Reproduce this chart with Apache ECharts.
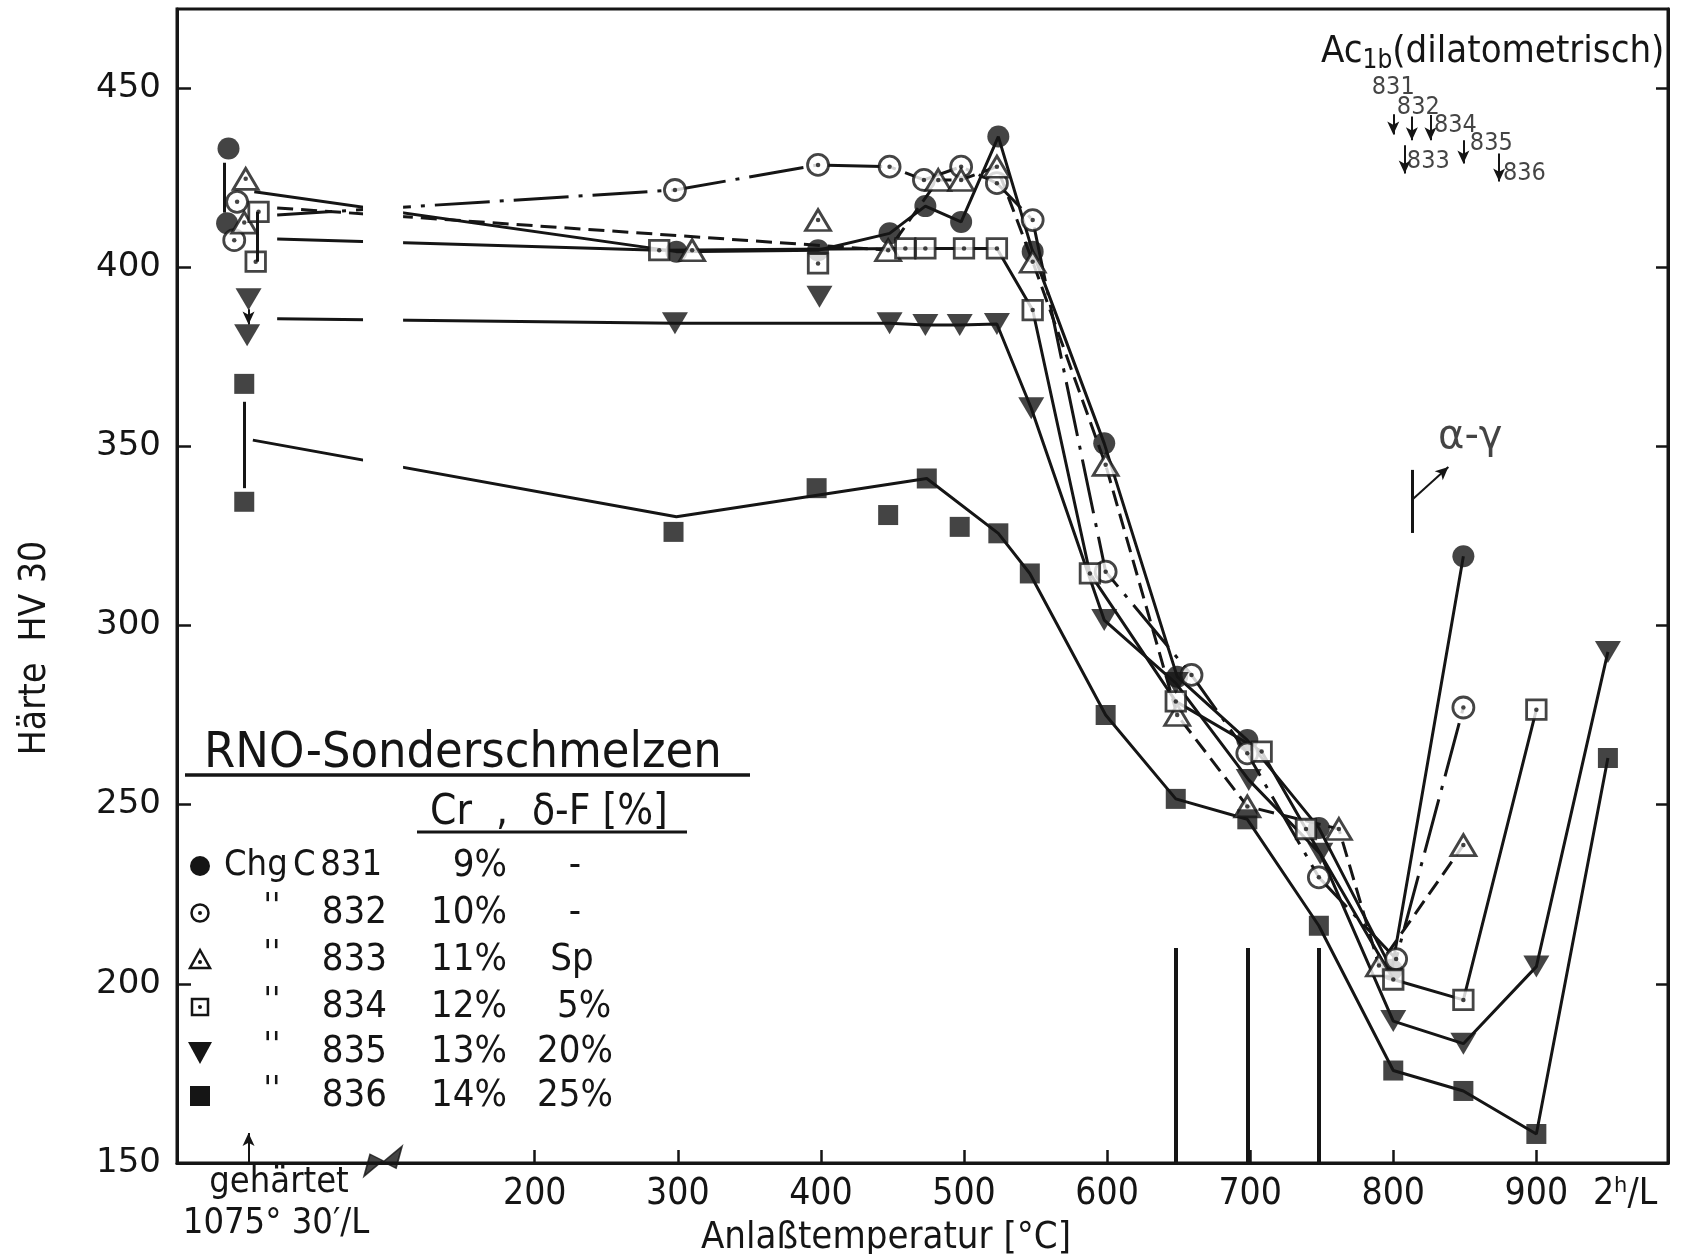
<!DOCTYPE html>
<html>
<head>
<meta charset="utf-8">
<script src="https://cdn.jsdelivr.net/npm/echarts@6.0.0/dist/echarts.min.js"></script>
<style>
html,body{margin:0;padding:0;background:#ffffff;}
#chart{width:1684px;height:1254px;}
</style>
</head>
<body>
<div id="chart"></div>
<script>
// ---------------- data ----------------
const grades = ['831','832','833','834','835','836'];
const chromium = ['9%','10%','11%','12%','13%','14%'];
const deltaFerrite = ['-','-','Sp','5%','20%','25%'];

const xTickValues = [200,300,400,500,600,700,800,900];
const xLongTermPos = 962;           // where the "2h/L" label sits
const xLongTermLabel = '2ʰ/L';
const yTickValues = [150,200,250,300,350,400,450];

// as-hardened hardness (1075 °C 30'/L): [x, HV] upper / lower value
const hard831 = [[-14,433.1],[-15,412.2]];
const hard832 = [[-8,418.2],[-10,407.5]];
const hard833 = [[-2,424.6],[-3,412.4]];
const hard834 = [[7,415.4],[5,401.5]];
const hard835 = [[0,391],[-1,381]];
const hard836 = [[-3,367.4],[-3,334.5]];

// tempering results: [temperature, HV]
const temp831 = [[299,404.3],[398,404.7],[448,409.4],[473,417],[498,412.6],[524,436.4],[548,404.3],[598,350.8],[649,285.7],[698,268],[748,243.5],[799,203.9],[849,319.3]];
const temp832 = [[298,421.5],[398,428.5],[448,428],[472,424.3],[498,428],[523,423.4],[548,413.1],[599,315],[659,286.2],[698,264.3],[748,229.7],[802,206.9],[849,277.1]];
const temp833 = [[310,404.7],[398,413.1],[447,404.7],[482,424.3],[498,424.3],[523,428],[548,401.5],[599,344.8],[649,275],[698,249.5],[762,243.2],[790,205.1],[849,238.7]];
const temp834 = [[287,404.7],[398,401],[459,405.2],[473,405.2],[500,405.2],[523,405.2],[548,388],[588,314.5],[648,278.8],[708,264.8],[739,243.2],[800,201.2],[849,195.5],[900,276.5]];
const temp835 = [[298,384.3],[399,391.7],[448,384.3],[473,383.8],[497,383.8],[523,384.1],[547,360.6],[598,301.5],[648,283.9],[699,256.9],[749,236.3],[800,189.6],[849,183.3],[900,204.8],[950,292.6]];
const temp836 = [[297,326.1],[397,338.3],[447,330.8],[474,341],[497,327.5],[524,325.7],[546,314.5],[599,275],[648,251.6],[698,245.9],[748,216.2],[800,175.8],[849,170.1],[900,158.1],[950,263]];

// drawn curves (nodes of the hand-drawn lines)
const curve831 = [[4,421],[299,404.3],[398,404.7],[448,409.4],[473,417],[498,412.6],[524,436.4],[548,404.3],[598,350.8],[649,285.7],[698,268],[748,243.5],[799,203.9],[849,319.3]];
const curve832 = [[20,414.5],[298,421.5],[398,428.5],[448,428],[472,424.3],[498,428],[523,423.4],[548,413.1],[599,315],[659,286.2],[698,264.3],[748,229.7],[802,206.9],[849,277.1]];
const curve833 = [[20,416.5],[447,404.7],[482,424.3],[498,424.3],[523,428],[548,401.5],[599,344.8],[649,275],[698,249.5],[762,243.2],[790,205.1],[849,238.7]];
const curve834 = [[20,407.8],[287,404.7],[459,405.2],[473,405.2],[500,405.2],[523,405.2],[548,388],[588,314.5],[648,278.8],[708,264.8],[739,243.2],[800,201.2],[849,195.5],[900,276.5]];
const curve835 = [[20,385.6],[298,384.3],[448,384.3],[473,383.8],[497,383.8],[523,384.1],[547,360.6],[598,301.5],[648,283.9],[699,256.9],[749,236.3],[800,189.6],[849,183.3],[900,204.8],[950,292.6]];
const curve836 = [[3,351.7],[299,330.3],[474,341],[524,325.7],[546,314.5],[599,275],[648,251.6],[698,245.9],[748,216.2],[800,175.8],[849,170.1],[900,158.1],[950,263]];

// Ac1b (dilatometric) temperatures
const ac1bGrades = ['831','832','833','834','835','836'];
const ac1bTemps = [800,813,808,826,849,874];
const alphaGammaTemp = 813;
const referenceBars = [648,698,748];   // heavy vertical marks at the bottom
const referenceBarTop = 210;

// ---------------- styling / layout ----------------
const INK = '#151515';
const FC = '"DejaVu Sans Condensed","Liberation Sans Narrow","Roboto Condensed","DejaVu Sans",sans-serif';
const FW = '"DejaVu Sans",sans-serif';

const seriesData = {
  '831':{hard:hard831,temp:temp831,curve:curve831},
  '832':{hard:hard832,temp:temp832,curve:curve832},
  '833':{hard:hard833,temp:temp833,curve:curve833},
  '834':{hard:hard834,temp:temp834,curve:curve834},
  '835':{hard:hard835,temp:temp835,curve:curve835},
  '836':{hard:hard836,temp:temp836,curve:curve836}
};
const markerStyle = {
  '831':{symbol:'circle',size:22,filled:true,dash:'solid'},
  '832':{symbol:'circle',size:21,filled:false,dash:[55,10,4,10]},
  '833':{symbol:'triangle',size:[25,21],filled:false,dash:[16,8]},
  '834':{symbol:'rect',size:19.5,filled:false,dash:'solid'},
  '835':{symbol:'triangle',size:[26,22],rotate:180,filled:true,dash:'solid'},
  '836':{symbol:'rect',size:20,filled:true,dash:'solid'}
};
// vertical connectors between the two as-hardened values (layout offsets)
const hardLink = {
  '831':{dx:-3,trimTop:4,trimBottom:3},
  '834':{dx:-1,trimTop:0,trimBottom:0},
  '835':{dx:0,trimTop:2.8,trimBottom:3,arrow:true},
  '836':{dx:0,trimTop:5,trimBottom:3.8}
};
// Ac1b annotation layout (arrow spans and label anchors, in axis units)
const ac1bArrowSpan = [[442.6,437],[442,435.4],[434,426.1],[442.4,435.4],[435.4,428.9],[431.7,423.9]];
const ac1bLabelPos = [[800,450],[817.5,444.4],[824.5,429.4],[843.4,439.6],[868.5,434.5],[891.6,426.1]];

const series = [];
grades.forEach(function(g){
  const st = markerStyle[g], d = seriesData[g];
  series.push({type:'line',name:'curve'+g,data:d.curve,symbol:'none',silent:true,z:2,
    lineStyle:{color:INK,width:3,type:st.dash}});
  const pts = d.hard.concat(d.temp);
  series.push({type:'scatter',name:g,data:pts,symbol:st.symbol,symbolSize:st.size,
    symbolRotate:st.rotate||0,z:4,silent:true,
    itemStyle: st.filled ? {color:INK} : {color:'#ffffff',borderColor:INK,borderWidth:2.8}});
  if(!st.filled){
    series.push({type:'scatter',data:pts,symbol:'circle',symbolSize:4.5,z:5,silent:true,itemStyle:{color:INK}});
  }
});

// white band = the axis-break gap in the hand drawn curves
series.push({type:'line',data:[],z:3,silent:true,
  markArea:{silent:true,z:3,itemStyle:{color:'#ffffff',opacity:1},data:[[{coord:[80,340]},{coord:[108,424]}]]}});

// plain strokes
const plainLines = [];
Object.keys(hardLink).forEach(function(g){
  const L = hardLink[g]; if(L.arrow) return;
  const h = seriesData[g].hard;
  plainLines.push([{coord:[h[0][0]+L.dx,h[0][1]-L.trimTop]},{coord:[h[0][0]+L.dx,h[1][1]+L.trimBottom]}]);
});
plainLines.push([{coord:[alphaGammaTemp,325.8]},{coord:[alphaGammaTemp,343.4]}]);
series.push({type:'line',data:[],z:3,silent:true,
  markLine:{silent:true,symbol:['none','none'],label:{show:false},
    lineStyle:{color:INK,width:3,type:'solid'},data:plainLines}});

// heavy bars
series.push({type:'line',data:[],z:3,silent:true,
  markLine:{silent:true,symbol:['none','none'],label:{show:false},
    lineStyle:{color:INK,width:4,type:'solid'},
    data:referenceBars.map(function(t){return [{coord:[t,150]},{coord:[t,referenceBarTop]}];})}});

// arrows
const arrows = [];
ac1bGrades.forEach(function(g,i){
  arrows.push([{coord:[ac1bTemps[i],ac1bArrowSpan[i][0]]},{coord:[ac1bTemps[i],ac1bArrowSpan[i][1]]}]);
});
arrows.push([{coord:[alphaGammaTemp,335]},{coord:[838.5,344.2]}]);
arrows.push([{coord:[0,150]},{coord:[0,158.4]}]);
(function(){const L=hardLink['835'],h=seriesData['835'].hard;
  arrows.push([{coord:[h[0][0]+L.dx,h[0][1]-L.trimTop]},{coord:[h[0][0]+L.dx,h[1][1]+L.trimBottom]}]);})();
series.push({type:'line',data:[],z:3,silent:true,
  markLine:{silent:true,symbol:['none','arrow'],symbolSize:[9,13],label:{show:false},
    lineStyle:{color:INK,width:2,type:'solid'},data:arrows}});

// axis-break zigzag
series.push({type:'scatter',data:[[94,150.5]],z:6,silent:true,
  symbol:'path://M0,30 L6,8 L20,15 L38,0 L32,22 L18,15 Z',symbolSize:[38,30],
  itemStyle:{color:INK,borderColor:INK,borderWidth:1.5}});

// text annotations in axis units
const labelItems = ac1bGrades.map(function(g,i){return {name:g,value:ac1bLabelPos[i]};});
series.push({type:'scatter',data:labelItems,symbolSize:0,z:6,silent:true,
  label:{show:true,position:'inside',formatter:'{b}',color:INK,fontSize:25,fontFamily:FC}});
series.push({type:'scatter',data:[{name:'α-γ',value:[853.8,352.3]}],symbolSize:0,z:6,silent:true,
  label:{show:true,position:'inside',formatter:'{b}',color:INK,fontSize:40,fontFamily:FW}});

// ---------------- legend block & titles (graphic) ----------------
const rowsY = [866,913,960,1007,1052,1096];
const symX = 200;
const graphics = [];
function txt(text,x,y,size,align,family,extra){
  return {type:'text',x:x,y:y,silent:true,z:10,
    style:Object.assign({text:text,font:size+'px '+(family||FC),fill:INK,
      textAlign:align||'left',textVerticalAlign:'middle'},extra||{})};
}
graphics.push(txt('RNO-Sonderschmelzen',204,754,50,'left'));
graphics.push({type:'line',z:10,silent:true,shape:{x1:185,y1:775,x2:750,y2:775},style:{stroke:INK,lineWidth:3.5}});
graphics.push(txt('Cr  ,  δ-F [%]',430,813,42,'left'));
graphics.push({type:'line',z:10,silent:true,shape:{x1:417,y1:832,x2:687,y2:832},style:{stroke:INK,lineWidth:3}});
const dFx = [575,575,572,584,575,575];
grades.forEach(function(g,i){
  const y = rowsY[i];
  if(i===0){
    graphics.push(txt('Chg',224,y,36,'left'));
    graphics.push(txt('C',293,y,36,'left'));
    graphics.push(txt(g,382,y,36,'right'));
  } else {
    graphics.push(txt("''",272,y-5,34,'center'));
    graphics.push(txt(g,387,y,38,'right'));
  }
  graphics.push(txt(chromium[i],507,y,38,'right'));
  graphics.push(txt(deltaFerrite[i],dFx[i],y,38,'center'));
  // legend symbol
  const x = symX;
  if(g==='831') graphics.push({type:'circle',z:10,shape:{cx:x,cy:y,r:10},style:{fill:INK}});
  if(g==='832'){ graphics.push({type:'circle',z:10,shape:{cx:x,cy:y,r:8.5},style:{fill:'#fff',stroke:INK,lineWidth:2.5}});
    graphics.push({type:'circle',z:11,shape:{cx:x,cy:y,r:2},style:{fill:INK}}); }
  if(g==='833'){ graphics.push({type:'polygon',z:10,shape:{points:[[x,y-10],[x+10,y+8],[x-10,y+8]]},style:{fill:'#fff',stroke:INK,lineWidth:2.5}});
    graphics.push({type:'circle',z:11,shape:{cx:x,cy:y+2,r:2},style:{fill:INK}}); }
  if(g==='834'){ graphics.push({type:'rect',z:10,shape:{x:x-8,y:y-8,width:16,height:16},style:{fill:'#fff',stroke:INK,lineWidth:2.5}});
    graphics.push({type:'circle',z:11,shape:{cx:x,cy:y,r:2},style:{fill:INK}}); }
  if(g==='835') graphics.push({type:'polygon',z:10,shape:{points:[[x-12,y-10],[x+12,y-10],[x,y+12]]},style:{fill:INK}});
  if(g==='836') graphics.push({type:'rect',z:10,shape:{x:x-10,y:y-10,width:20,height:20},style:{fill:INK}});
});
// Ac1b heading
graphics.push({type:'text',x:1321,y:52,silent:true,z:10,style:{
  text:'{a|Ac}{s|1b}{a|(dilatometrisch)}',textVerticalAlign:'middle',fill:INK,
  rich:{a:{fontSize:38,fontFamily:FC,fill:INK,color:INK},s:{fontSize:26,fontFamily:FC,fill:INK,color:INK,padding:[18,0,0,0]}}}});
// hardening note
graphics.push(txt('gehärtet',279,1183,36,'center'));
graphics.push(txt('1075° 30′/L',276,1224,36,'center'));
// axis titles
graphics.push(txt('Anlaßtemperatur [°C]',886,1238,38,'center'));
graphics.push(Object.assign(txt('Härte  HV 30',35,648,37,'center'),{rotation:Math.PI/2}));

const option = {
  animation:false,
  backgroundColor:'#ffffff',
  grid:{left:177,right:16,top:9,bottom:91,show:true,borderColor:INK,borderWidth:3,backgroundColor:'transparent'},
  xAxis:{type:'value',min:-50,max:992,
    axisLine:{show:true,onZero:false,lineStyle:{color:INK,width:3}},
    axisTick:{show:true,inside:true,length:13,lineStyle:{color:INK,width:2.5},customValues:xTickValues},
    axisLabel:{show:true,color:INK,fontSize:37,fontFamily:FC,margin:13,
      customValues:xTickValues.concat([xLongTermPos]),
      formatter:function(v){return v===xLongTermPos?xLongTermLabel:String(v);}},
    splitLine:{show:false}},
  yAxis:[
    {type:'value',min:150,max:472,position:'left',
      axisLine:{show:true,onZero:false,lineStyle:{color:INK,width:3}},
      axisTick:{show:true,inside:true,length:14,lineStyle:{color:INK,width:2.5},customValues:yTickValues.slice(1)},
      axisLabel:{show:true,color:INK,fontSize:34,fontFamily:FW,margin:16,customValues:yTickValues},
      splitLine:{show:false}},
    {type:'value',min:150,max:472,position:'right',
      axisLine:{show:true,onZero:false,lineStyle:{color:INK,width:3}},
      axisTick:{show:true,inside:true,length:12,lineStyle:{color:INK,width:2.5},customValues:yTickValues.slice(1)},
      axisLabel:{show:false},splitLine:{show:false}}
  ],
  graphic:graphics,
  series:series
};
const chart = echarts.init(document.getElementById('chart'));
chart.setOption(option);
</script>
</body>
</html>
